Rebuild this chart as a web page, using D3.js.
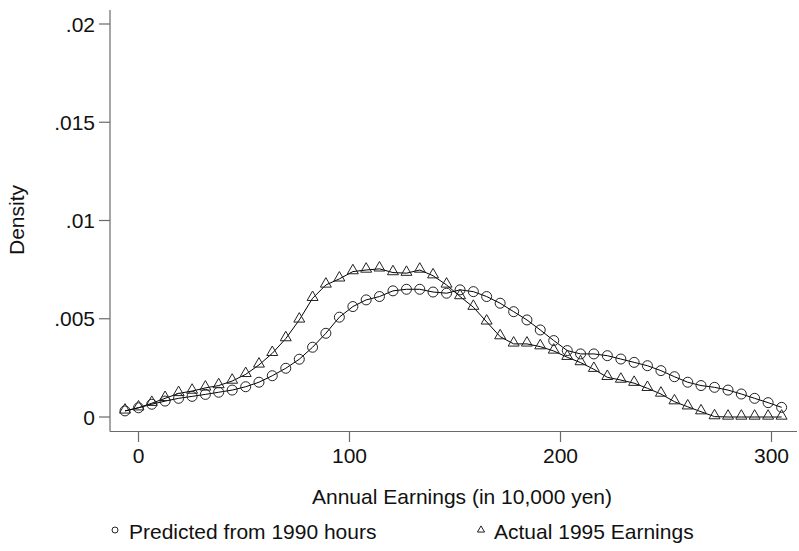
<!DOCTYPE html>
<html>
<head>
<meta charset="utf-8">
<script src="https://cdn.jsdelivr.net/npm/d3@7"></script>
<style>
  body { margin: 0; background: #fff; }
  text { font-family: "Liberation Sans", Arial, sans-serif; fill: #111; }
</style>
</head>
<body>
<div id="chart"></div>
<script>
// kdensity evaluation points (10,000 yen)
var earnings = [-6.4, 0.0, 6.3, 12.6, 19.0, 25.4, 31.7, 38.0, 44.4, 50.8,
    57.1, 63.4, 69.8, 76.2, 82.5, 88.8, 95.2, 101.6, 107.9, 114.2,
    120.6, 127.0, 133.3, 139.6, 146.0, 152.4, 158.7, 165.0, 171.4, 177.8,
    184.1, 190.4, 196.8, 203.2, 209.5, 215.8, 222.2, 228.6, 234.9, 241.2,
    247.6, 254.0, 260.3, 266.6, 273.0, 279.4, 285.7, 292.0, 298.4, 304.8];

var predicted = [0.00031, 0.00047, 0.00065, 0.00081, 0.00095, 0.00105, 0.00115, 0.00126, 0.00137, 0.00154,
    0.00177, 0.00210, 0.00248, 0.00294, 0.00355, 0.00426, 0.00508, 0.00562, 0.00596, 0.00613,
    0.00642, 0.00650, 0.00650, 0.00636, 0.00630, 0.00647, 0.00638, 0.00613, 0.00579, 0.00536,
    0.00494, 0.00443, 0.00389, 0.00338, 0.00321, 0.00321, 0.00312, 0.00295, 0.00278, 0.00261,
    0.00236, 0.00205, 0.00177, 0.00160, 0.00151, 0.00137, 0.00117, 0.00095, 0.00073, 0.00049];

var actual = [0.00031, 0.00047, 0.00070, 0.00095, 0.00120, 0.00132, 0.00148, 0.00160, 0.00183, 0.00217,
    0.00265, 0.00324, 0.00399, 0.00494, 0.00604, 0.00672, 0.00703, 0.00740, 0.00748, 0.00754,
    0.00735, 0.00732, 0.00748, 0.00719, 0.00672, 0.00613, 0.00559, 0.00484, 0.00409, 0.00372,
    0.00372, 0.00358, 0.00336, 0.00304, 0.00277, 0.00243, 0.00202, 0.00188, 0.00172, 0.00146,
    0.00117, 0.00078, 0.00052, 0.00027, 0.00002, 0, 0, 0, 0, 0];

var xTicks = [0, 100, 200, 300];
var yTicks = [0, 0.005, 0.01, 0.015, 0.02];
var yTickLabels = ['0', '.005', '.01', '.015', '.02'];
var legendLabels = ['Predicted from 1990 hours', 'Actual 1995 Earnings'];

var width = 799, height = 551;

var x = d3.scaleLinear()
    .domain([0, 300])
    .range([138.5, 771.5]);

var y = d3.scaleLinear()
    .domain([0, 0.02])
    .range([417, 24]);

var svg = d3.select('#chart')
    .append('svg')
    .attr('width', width)
    .attr('height', height);

var axisColor = '#6a6a6a';

// axis lines
svg.append('line')
    .attr('x1', 110).attr('x2', 110)
    .attr('y1', 10).attr('y2', 431.5)
    .attr('stroke', axisColor).attr('stroke-width', 1.2);

svg.append('line')
    .attr('x1', 110).attr('x2', 797)
    .attr('y1', 431.5).attr('y2', 431.5)
    .attr('stroke', axisColor).attr('stroke-width', 1.2);

// y ticks
var yt = svg.append('g').selectAll('g')
    .data(yTicks)
    .enter().append('g')
    .attr('transform', function (d) { return 'translate(0,' + y(d) + ')'; });

yt.append('line')
    .attr('x1', 99).attr('x2', 110)
    .attr('stroke', axisColor).attr('stroke-width', 1.2);

yt.append('text')
    .attr('x', 95)
    .attr('dy', '0.36em')
    .attr('text-anchor', 'end')
    .style('font-size', '21px')
    .text(function (d, i) { return yTickLabels[i]; });

// x ticks
var xt = svg.append('g').selectAll('g')
    .data(xTicks)
    .enter().append('g')
    .attr('transform', function (d) { return 'translate(' + x(d) + ',0)'; });

xt.append('line')
    .attr('y1', 431.5).attr('y2', 442)
    .attr('stroke', axisColor).attr('stroke-width', 1.2);

xt.append('text')
    .attr('y', 463)
    .attr('text-anchor', 'middle')
    .style('font-size', '21px')
    .text(function (d) { return d; });

// axis titles
svg.append('text')
    .attr('x', x(150) + 7)
    .attr('y', 504)
    .attr('text-anchor', 'middle')
    .style('font-size', '21px')
    .text('Annual Earnings (in 10,000 yen)');

svg.append('text')
    .attr('transform', 'translate(24,220) rotate(-90)')
    .attr('text-anchor', 'middle')
    .style('font-size', '21px')
    .text('Density');

// lines
var line = d3.line()
    .x(function (d, i) { return x(earnings[i]); })
    .y(function (d) { return y(d); });

svg.append('path')
    .datum(predicted)
    .attr('d', line)
    .attr('fill', 'none')
    .attr('stroke', '#000')
    .attr('stroke-width', 1);

svg.append('path')
    .datum(actual)
    .attr('d', line)
    .attr('fill', 'none')
    .attr('stroke', '#000')
    .attr('stroke-width', 1);

var tri = d3.symbol().type(d3.symbolTriangle).size(52);

// markers
svg.append('g').selectAll('circle')
    .data(predicted)
    .enter().append('circle')
    .attr('cx', function (d, i) { return x(earnings[i]); })
    .attr('cy', function (d) { return y(d); })
    .attr('r', 5)
    .attr('fill', 'none')
    .attr('stroke', '#222')
    .attr('stroke-width', 1);

svg.append('g').selectAll('path')
    .data(actual)
    .enter().append('path')
    .attr('d', tri)
    .attr('transform', function (d, i) {
        return 'translate(' + x(earnings[i]) + ',' + (y(d) - 1) + ')';
    })
    .attr('fill', 'none')
    .attr('stroke', '#222')
    .attr('stroke-width', 1);

// legend
var legend = svg.append('g');

legend.append('circle')
    .attr('cx', 115).attr('cy', 530)
    .attr('r', 3)
    .attr('fill', 'none')
    .attr('stroke', '#222');

legend.append('text')
    .attr('x', 129).attr('y', 539)
    .style('font-size', '21px')
    .text(legendLabels[0]);

legend.append('path')
    .attr('d', d3.symbol().type(d3.symbolTriangle).size(22))
    .attr('transform', 'translate(481,530)')
    .attr('fill', 'none')
    .attr('stroke', '#222');

legend.append('text')
    .attr('x', 494).attr('y', 539)
    .style('font-size', '21px')
    .text(legendLabels[1]);
</script>
</body>
</html>
